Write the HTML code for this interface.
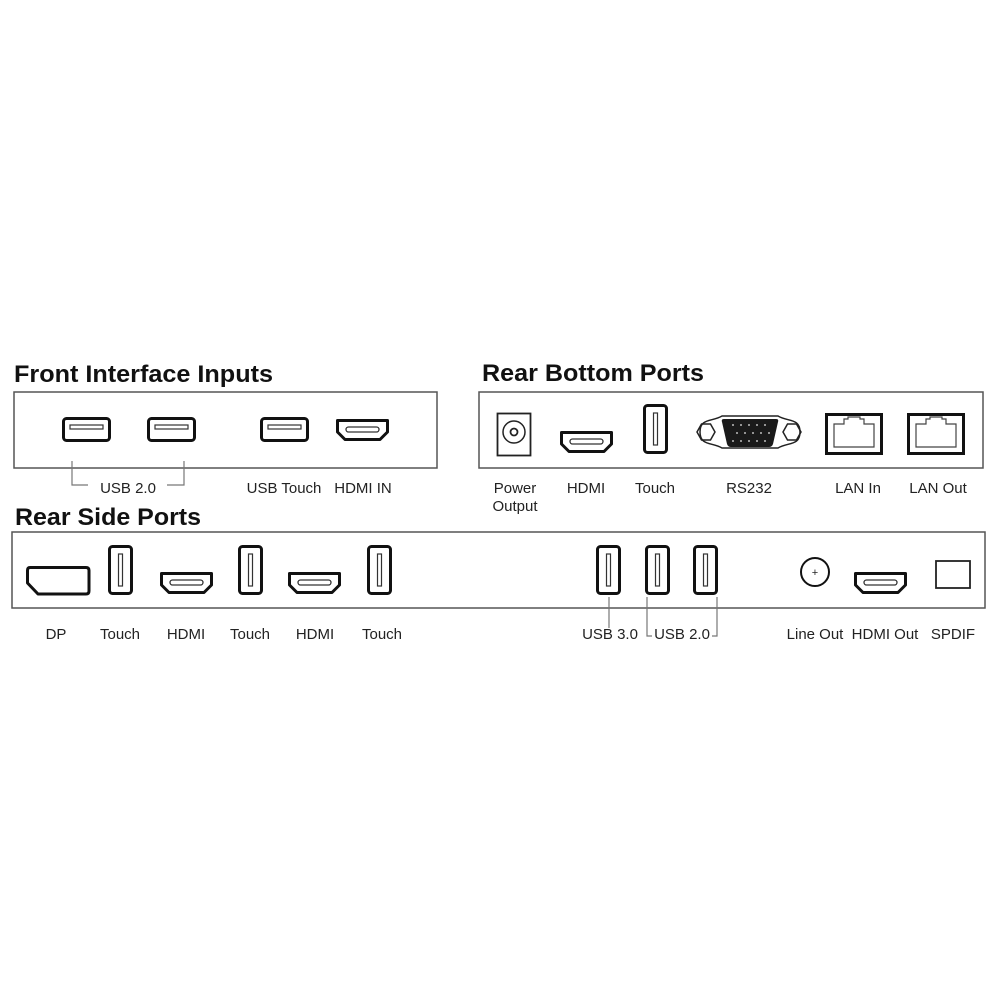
<!DOCTYPE html>
<html><head><meta charset="utf-8"><style>
html,body{margin:0;padding:0;background:#fff;}
svg{display:block;}
text{font-family:"Liberation Sans",Arial,sans-serif;fill:#222;}
.t{font-weight:bold;font-size:24px;fill:#111;}
.l{font-size:15px;text-anchor:middle;}
</style></head><body>
<svg width="1000" height="1000" viewBox="0 0 1000 1000" xmlns="http://www.w3.org/2000/svg">
<defs>
<g id="hdmi"><path d="M1.5,1.5 H51.5 V13 L44,20.5 H9 L1.5,13 Z" fill="#fff" stroke="#111" stroke-width="3" stroke-linejoin="round"/><rect x="10" y="8" width="33" height="5" rx="2.5" fill="none" stroke="#333" stroke-width="1.3"/></g>
<g id="usbh"><rect x="1.5" y="1.5" width="46" height="22" rx="3" fill="#fff" stroke="#111" stroke-width="3"/><rect x="8" y="8" width="33" height="4" fill="none" stroke="#333" stroke-width="1.2"/></g>
<g id="usbv"><rect x="1.5" y="1.5" width="22" height="47" rx="3" fill="#fff" stroke="#111" stroke-width="3"/><rect x="10.5" y="9" width="4" height="32" fill="none" stroke="#333" stroke-width="1.2"/></g>
<g id="lan"><rect x="1.5" y="1.5" width="55" height="39" fill="#fff" stroke="#111" stroke-width="3"/><path d="M9,11 H19 V6 H23 V4 H35 V6 H39 V11 H49 V34 H9 Z" fill="none" stroke="#444" stroke-width="1.2"/></g>
</defs>

<!-- Titles -->
<text class="t" x="14" y="382" textLength="259" lengthAdjust="spacingAndGlyphs">Front Interface Inputs</text>
<text class="t" x="482" y="381" textLength="222" lengthAdjust="spacingAndGlyphs">Rear Bottom Ports</text>
<text class="t" x="15" y="525" textLength="186" lengthAdjust="spacingAndGlyphs">Rear Side Ports</text>

<!-- Boxes -->
<rect x="14" y="392" width="423" height="76" fill="none" stroke="#555" stroke-width="1.5"/>
<rect x="479" y="392" width="504" height="76" fill="none" stroke="#555" stroke-width="1.5"/>
<rect x="12" y="532" width="973" height="76" fill="none" stroke="#555" stroke-width="1.5"/>

<!-- Front -->
<use href="#usbh" x="62" y="417"/>
<use href="#usbh" x="147" y="417"/>
<use href="#usbh" x="260" y="417"/>
<use href="#hdmi" x="336" y="419"/>
<path d="M72,461 V485 H88 M167,485 H184 V461" fill="none" stroke="#777" stroke-width="1.2"/>
<text class="l" x="128" y="493">USB 2.0</text>
<text class="l" x="284" y="493">USB Touch</text>
<text class="l" x="363" y="493">HDMI IN</text>

<!-- Rear bottom -->
<rect x="497.5" y="413.5" width="33" height="42" fill="#fff" stroke="#222" stroke-width="1.8"/>
<circle cx="514" cy="432" r="11" fill="none" stroke="#222" stroke-width="1.5"/>
<circle cx="514" cy="432" r="3.5" fill="none" stroke="#222" stroke-width="1.8"/>
<use href="#hdmi" x="560" y="431"/>
<use href="#usbv" x="643" y="404"/>
<!-- RS232 -->
<path d="M697,432 L701.5,424 H710.5 L715,432 L710.5,440 H701.5 Z" fill="#fff" stroke="#222" stroke-width="1.5"/>
<path d="M783,432 L787.5,424 H796.5 L801,432 L796.5,440 H787.5 Z" fill="#fff" stroke="#222" stroke-width="1.5"/>
<path d="M700,432 C700,418 712,422 722,416 H778 C788,422 800,418 800,432 C800,446 788,442 778,448 H722 C712,442 700,446 700,432 Z" fill="none" stroke="#222" stroke-width="1.5"/>
<path d="M724,419 H776 Q779,419 778,422 L773,444 Q772,447 769,447 H731 Q728,447 727,444 L722,422 Q721,419 724,419 Z" fill="#1a1a1a"/>
<g fill="#bbb">
<circle cx="733" cy="425" r="1"/><circle cx="741" cy="425" r="1"/><circle cx="749" cy="425" r="1"/><circle cx="757" cy="425" r="1"/><circle cx="765" cy="425" r="1"/>
<circle cx="737" cy="433" r="1"/><circle cx="745" cy="433" r="1"/><circle cx="753" cy="433" r="1"/><circle cx="761" cy="433" r="1"/><circle cx="769" cy="433" r="1"/>
<circle cx="733" cy="441" r="1"/><circle cx="741" cy="441" r="1"/><circle cx="749" cy="441" r="1"/><circle cx="757" cy="441" r="1"/><circle cx="765" cy="441" r="1"/>
</g>
<use href="#lan" x="825" y="413"/>
<use href="#lan" x="907" y="413"/>
<text class="l" x="515" y="493">Power</text>
<text class="l" x="515" y="511">Output</text>
<text class="l" x="586" y="493">HDMI</text>
<text class="l" x="655" y="493">Touch</text>
<text class="l" x="749" y="493">RS232</text>
<text class="l" x="858" y="493">LAN In</text>
<text class="l" x="938" y="493">LAN Out</text>

<!-- Rear side -->
<path d="M30,567.5 H86 Q89,567.5 89,570.5 V591 Q89,594 86,594 H38 L27.5,583 V570.5 Q27.5,567.5 30,567.5 Z" fill="#fff" stroke="#111" stroke-width="3" stroke-linejoin="round"/>
<use href="#usbv" x="108" y="545"/>
<use href="#hdmi" x="160" y="572"/>
<use href="#usbv" x="238" y="545"/>
<use href="#hdmi" x="288" y="572"/>
<use href="#usbv" x="367" y="545"/>
<use href="#usbv" x="596" y="545"/>
<use href="#usbv" x="645" y="545"/>
<use href="#usbv" x="693" y="545"/>
<circle cx="815" cy="572" r="14" fill="#fff" stroke="#111" stroke-width="2"/>
<text x="815" y="576" style="font-size:11px;text-anchor:middle;">+</text>
<use href="#hdmi" x="854" y="572"/>
<rect x="936" y="561" width="34" height="27" fill="#fff" stroke="#222" stroke-width="1.8"/>
<path d="M609,597 V628 M647,597 V636 H652 M717,597 V636 H712" fill="none" stroke="#777" stroke-width="1.2"/>
<text class="l" x="56" y="639">DP</text>
<text class="l" x="120" y="639">Touch</text>
<text class="l" x="186" y="639">HDMI</text>
<text class="l" x="250" y="639">Touch</text>
<text class="l" x="315" y="639">HDMI</text>
<text class="l" x="382" y="639">Touch</text>
<text class="l" x="610" y="639">USB 3.0</text>
<text class="l" x="682" y="639">USB 2.0</text>
<text class="l" x="815" y="639">Line Out</text>
<text class="l" x="885" y="639">HDMI Out</text>
<text class="l" x="953" y="639">SPDIF</text>
</svg>
</body></html>
